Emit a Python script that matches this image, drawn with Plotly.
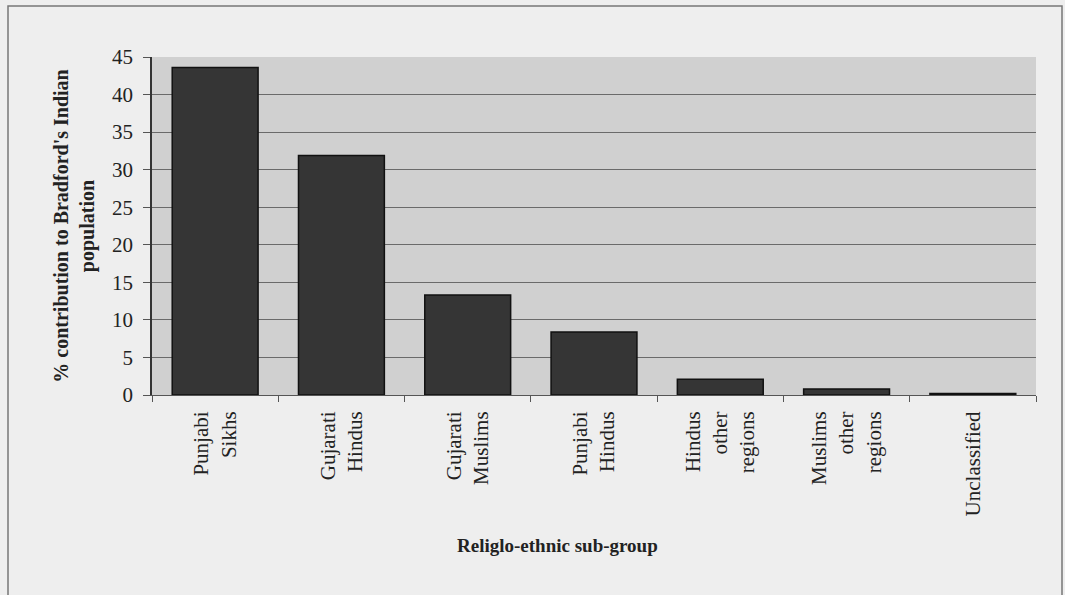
import plotly.graph_objects as go

categories = ["Punjabi<br>Sikhs", "Gujarati<br>Hindus", "Gujarati<br>Muslims", "Punjabi<br>Hindus",
              "Hindus<br>other<br>regions", "Muslims<br>other<br>regions", "Unclassified"]
values = [43.6, 31.9, 13.3, 8.4, 2.1, 0.8, 0.2]
y_ticks = [0, 5, 10, 15, 20, 25, 30, 35, 40, 45]
x_title = "<b>Religlo-ethnic sub-group</b>"
y_title = "<b>% contribution to Bradford's Indian<br>population</b>"

L, R, T, B = 152, 1036, 57, 395
W, H = 1065, 595

def px(x):
    return (x - L) / (R - L)

def py(y):
    return (B - y) / (B - T)

fig = go.Figure()
fig.add_trace(go.Bar(
    x=categories, y=values,
    marker=dict(color="#353535", line=dict(color="#111111", width=1.5)),
    width=0.68,
))

font = "Liberation Serif, Times New Roman, serif"
fig.update_layout(
    width=W, height=H,
    margin=dict(l=L, r=W - R, t=T, b=H - B),
    paper_bgcolor="#eeeeee",
    plot_bgcolor="#d0d0d0",
    showlegend=False,
    font=dict(family=font, size=20, color="#222222"),
    shapes=[dict(type="rect", xref="paper", yref="paper",
                 x0=px(8), x1=px(1062), y0=py(6), y1=py(620),
                 line=dict(color="#777777", width=1.5), fillcolor="rgba(0,0,0,0)", layer="below")],
    annotations=[dict(text=x_title, xref="paper", yref="paper", x=px(557), y=py(545),
                      xanchor="center", yanchor="middle", showarrow=False,
                      font=dict(size=19, family=font, color="#222222"))],
)
fig.update_xaxes(
    tickangle=-90, tickfont=dict(size=21, family=font, color="#222222"),
    tickson="boundaries", ticks="outside", ticklen=6, tickcolor="#555555",
    ticklabelstandoff=7,
    showline=True, linecolor="#555555", linewidth=1,
)
fig.update_yaxes(
    range=[0, 45], tickvals=y_ticks, ticks="outside", ticklen=7, tickcolor="#555555",
    ticklabelstandoff=6,
    showline=True, linecolor="#333333", linewidth=1.5,
    gridcolor="#6a6a6a", gridwidth=1, zeroline=False,
    tickfont=dict(size=21, family=font, color="#222222"),
    title=dict(text=y_title, font=dict(size=20, family=font, color="#222222"), standoff=12),
)
fig.write_html("out.html", config={"displayModeBar": False},
               post_script="document.body.style.margin='0';")
